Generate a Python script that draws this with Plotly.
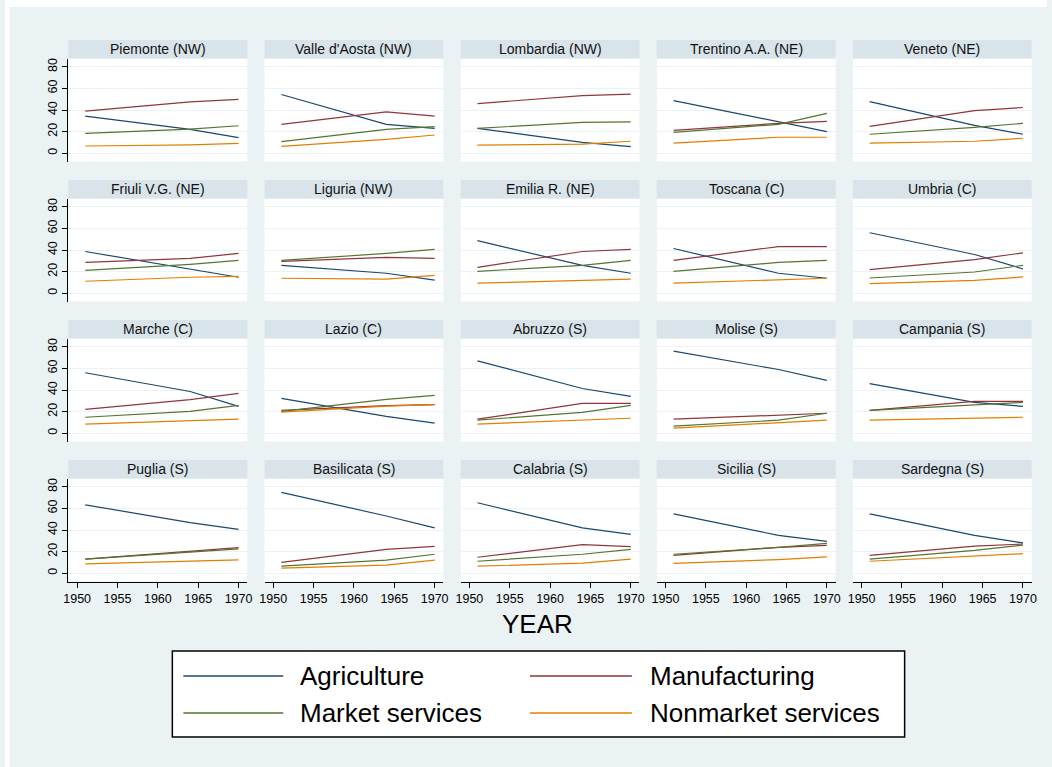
import plotly.graph_objects as go

W, H = 1052, 767

regions = ["Piemonte (NW)", "Valle d'Aosta (NW)", "Lombardia (NW)", "Trentino A.A. (NE)", "Veneto (NE)",
           "Friuli V.G. (NE)", "Liguria (NW)", "Emilia R. (NE)", "Toscana (C)", "Umbria (C)",
           "Marche (C)", "Lazio (C)", "Abruzzo (S)", "Molise (S)", "Campania (S)",
           "Puglia (S)", "Basilicata (S)", "Calabria (S)", "Sicilia (S)", "Sardegna (S)"]
years = [1951, 1964, 1970]

agriculture = [
    [34.3, 22.0, 14.3], [54.4, 26.7, 23.0], [23.0, 10.0, 6.0], [48.7, 29.0, 20.0], [47.8, 25.7, 17.5],
    [38.6, 22.0, 14.7], [25.7, 18.4, 12.0], [48.7, 25.7, 18.4], [41.4, 18.4, 13.8], [56.0, 35.8, 22.4],
    [56.0, 38.6, 24.8], [32.2, 15.6, 9.2], [67.0, 41.4, 34.0], [76.0, 59.0, 49.0], [46.0, 28.5, 24.8],
    [63.4, 46.9, 40.5], [75.0, 53.0, 42.0], [65.3, 42.0, 36.0], [55.0, 35.0, 29.4], [55.0, 35.0, 28.0],
]
manufacturing = [
    [39.0, 47.6, 49.8], [26.7, 38.3, 34.4], [46.0, 53.3, 54.7], [21.0, 27.6, 29.4], [24.8, 39.5, 42.3],
    [28.5, 32.2, 36.8], [29.4, 33.1, 32.2], [23.9, 38.6, 40.5], [30.3, 43.2, 43.2], [21.8, 31.0, 37.4],
    [22.0, 31.0, 36.8], [21.1, 25.5, 26.5], [12.9, 27.6, 27.6], [12.9, 16.5, 18.4], [21.1, 29.4, 29.4],
    [12.9, 20.0, 23.6], [10.0, 22.0, 24.8], [14.7, 26.5, 24.5], [16.5, 23.9, 25.7], [16.5, 25.0, 27.0],
]
market_services = [
    [18.3, 22.3, 25.4], [10.6, 22.0, 24.5], [23.0, 28.5, 29.0], [19.3, 26.7, 36.8], [17.5, 23.9, 27.6],
    [21.0, 26.7, 30.3], [30.3, 36.8, 40.5], [20.2, 25.7, 30.3], [20.2, 28.5, 30.3], [14.0, 19.6, 25.8],
    [14.7, 20.2, 25.7], [20.2, 31.3, 35.0], [12.0, 19.3, 25.7], [6.4, 12.0, 18.4], [21.0, 25.7, 28.5],
    [12.9, 19.5, 22.5], [6.4, 12.0, 17.5], [11.0, 17.5, 22.0], [17.5, 23.9, 27.6], [13.0, 21.0, 26.0],
]
nonmarket_services = [
    [6.6, 7.7, 9.0], [6.3, 12.8, 16.8], [7.4, 8.3, 11.0], [9.2, 14.7, 14.7], [9.2, 11.0, 13.8],
    [11.0, 14.7, 15.6], [13.8, 12.9, 16.5], [9.2, 12.0, 12.9], [9.2, 12.0, 13.8], [8.7, 11.8, 15.0],
    [8.3, 11.0, 12.9], [19.5, 25.0, 26.5], [8.3, 12.0, 13.8], [4.6, 9.2, 12.0], [12.0, 13.8, 14.7],
    [8.6, 11.0, 12.3], [4.6, 7.4, 12.0], [6.4, 9.2, 12.9], [9.0, 12.5, 15.0], [11.0, 15.5, 18.0],
]

sector_names = ["Agriculture", "Manufacturing", "Market services", "Nonmarket services"]
sector_colors = ["#1A476F", "#90353B", "#55752F", "#E37E00"]
sector_data = [agriculture, manufacturing, market_services, nonmarket_services]

x_ticks = [1950, 1955, 1960, 1965, 1970]
y_ticks = [0, 20, 40, 60, 80]

FONT = "Liberation Sans, Arial, Helvetica, sans-serif"
BG = "#EAF2F3"
BAR = "#D8E4EA"

# horizontal compensation (the capture appears slightly squeezed about the centre)
XS = 1.0086


def px(x):
    return (526 + (x - 526) * XS) / W


def py(y):
    return 1 - y / H


col_left0, col_w, col_pitch = 68, 179, 196.3
row_top0, title_h, plot_h, row_pitch = 40, 18.5, 103, 140

fig = go.Figure()
layout = {}
shapes = []
annotations = []

for i, name in enumerate(regions):
    r, c = divmod(i, 5)
    k = i + 1
    left = col_left0 + c * col_pitch
    top = row_top0 + r * row_pitch
    ptop = top + title_h
    pbot = ptop + plot_h
    xk = "xaxis" if k == 1 else f"xaxis{k}"
    yk = "yaxis" if k == 1 else f"yaxis{k}"
    bottom = (r == 3)
    first = (c == 0)
    layout[xk] = dict(
        domain=[px(left), px(left + col_w)], anchor=f"y{k}" if k > 1 else "y",
        range=[1948.92, 1971.08], tickvals=x_ticks, showgrid=False, zeroline=False,
        showline=bottom, linecolor="#000", linewidth=1,
        ticks="outside" if bottom else "", ticklen=5, tickcolor="#000", tickwidth=1,
        showticklabels=bottom, tickfont=dict(family=FONT, size=12.5, color="#000"),
    )
    layout[yk] = dict(
        domain=[py(pbot), py(ptop)], anchor=f"x{k}" if k > 1 else "x",
        range=[-7.8, 87.8], tickvals=y_ticks, showgrid=True, gridcolor=BG, gridwidth=1.2,
        zeroline=False, showline=first, linecolor="#000", linewidth=1,
        ticks="outside" if first else "", ticklen=5, tickcolor="#000", tickwidth=1,
        showticklabels=first, tickangle=-90, tickfont=dict(family=FONT, size=12.5, color="#000"),
    )
    shapes.append(dict(type="rect", xref="paper", yref="paper",
                       x0=px(left), x1=px(left + col_w), y0=py(ptop), y1=py(top),
                       fillcolor=BAR, line=dict(width=0), layer="below"))
    annotations.append(dict(text=name, xref="paper", yref="paper",
                            x=px(left + col_w / 2), y=py(top + title_h / 2),
                            xanchor="center", yanchor="middle", showarrow=False,
                            font=dict(family=FONT, size=14, color="#111")))
    for s in range(4):
        fig.add_trace(go.Scatter(
            x=years, y=sector_data[s][i], mode="lines", name=sector_names[s],
            line=dict(color=sector_colors[s], width=1.2),
            xaxis=f"x{k}" if k > 1 else "x", yaxis=f"y{k}" if k > 1 else "y",
            showlegend=False,
        ))

# white strips at top/left (graph region offset inside the page)
shapes.append(dict(type="rect", xref="paper", yref="paper", x0=0, x1=1, y0=py(7), y1=1,
                   fillcolor="white", line=dict(width=0), layer="below"))
shapes.append(dict(type="rect", xref="paper", yref="paper", x0=0, x1=px(9), y0=0, y1=1,
                   fillcolor="white", line=dict(width=0), layer="below"))

# x axis title
annotations.append(dict(text="YEAR", xref="paper", yref="paper", x=px(538), y=py(624),
                        xanchor="center", yanchor="middle", showarrow=False,
                        font=dict(family=FONT, size=26, color="#000")))

# legend box
shapes.append(dict(type="rect", xref="paper", yref="paper", x0=px(172), x1=px(905),
                   y0=py(737), y1=py(651), fillcolor="white", line=dict(color="#000", width=1.5)))
leg_pos = [(183, 283, 298, 676), (530, 632, 648, 676), (183, 283, 298, 713), (530, 632, 648, 713)]
for s, (lx0, lx1, tx, ly) in enumerate(leg_pos):
    shapes.append(dict(type="line", xref="paper", yref="paper", x0=px(lx0), x1=px(lx1),
                       y0=py(ly), y1=py(ly), line=dict(color=sector_colors[s], width=1.5)))
    annotations.append(dict(text=sector_names[s], xref="paper", yref="paper", x=px(tx), y=py(ly),
                            xanchor="left", yanchor="middle", showarrow=False,
                            font=dict(family=FONT, size=26, color="#000")))

fig.update_layout(
    width=W, height=H, margin=dict(l=0, r=0, t=0, b=0),
    paper_bgcolor=BG, plot_bgcolor="white",
    shapes=shapes, annotations=annotations, showlegend=False,
    **layout,
)

fig.write_html("out.html")
